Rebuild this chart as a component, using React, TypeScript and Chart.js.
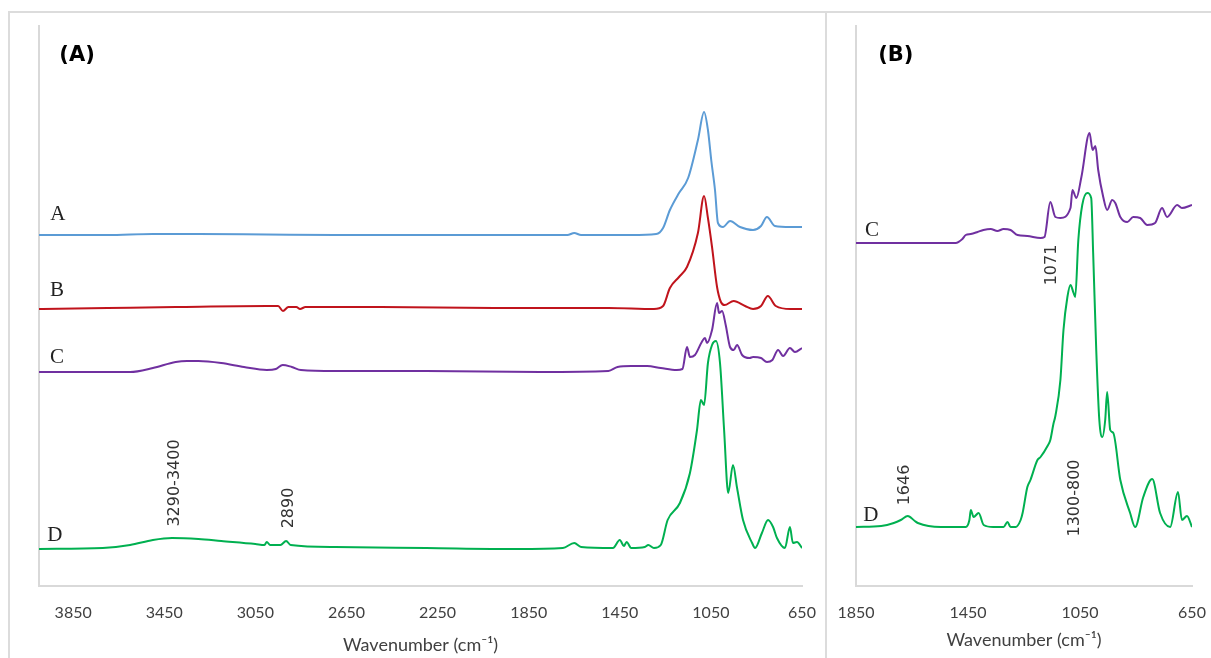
import React, { useEffect, useRef } from "react";
import { Chart, registerables } from "chart.js";

Chart.register(...registerables);

// ---------- Panel (A): full range, wavenumber (cm-1) and offset absorbance (a.u.) ----------
const waveA = [4000, 3700, 3500, 3300, 3000, 2700, 2000, 1680, 1650, 1620, 1400, 1290, 1260, 1230, 1190, 1150, 1107, 1080, 1063, 1048, 1032, 1019, 997, 966, 922, 865, 830, 804, 769, 700, 650];
const absA = [3.51, 3.51, 3.52, 3.52, 3.515, 3.51, 3.51, 3.51, 3.53, 3.51, 3.51, 3.52, 3.58, 3.76, 3.93, 4.08, 4.46, 4.74, 4.56, 4.25, 3.96, 3.63, 3.59, 3.65, 3.59, 3.56, 3.6, 3.69, 3.6, 3.59, 3.59];

const waveB = [4000, 3700, 3400, 3000, 2950, 2929, 2905, 2870, 2854, 2830, 2500, 2000, 1500, 1300, 1260, 1230, 1190, 1155, 1107, 1080, 1063, 1045, 1023, 1006, 990, 950, 900, 865, 830, 800, 765, 700, 650];
const absB = [2.77, 2.78, 2.79, 2.8, 2.8, 2.75, 2.79, 2.79, 2.77, 2.79, 2.79, 2.78, 2.78, 2.77, 2.8, 2.98, 3.09, 3.19, 3.53, 3.9, 3.68, 3.39, 2.99, 2.84, 2.81, 2.85, 2.8, 2.77, 2.8, 2.9, 2.8, 2.77, 2.77];

const waveC = [4000, 3600, 3500, 3400, 3350, 3300, 3200, 3100, 3000, 2960, 2930, 2890, 2850, 2700, 2300, 1800, 1500, 1460, 1400, 1330, 1270, 1200, 1175, 1155, 1142, 1120, 1090, 1076, 1067, 1045, 1023, 1014, 1001, 985, 966, 950, 935, 913, 880, 865, 830, 804, 780, 755, 733, 703, 681, 650];
const absC = [2.14, 2.14, 2.18, 2.24, 2.25, 2.25, 2.23, 2.19, 2.16, 2.17, 2.21, 2.19, 2.16, 2.15, 2.15, 2.14, 2.15, 2.19, 2.2, 2.2, 2.18, 2.16, 2.17, 2.39, 2.29, 2.31, 2.44, 2.48, 2.43, 2.56, 2.83, 2.73, 2.75, 2.61, 2.39, 2.36, 2.41, 2.31, 2.28, 2.29, 2.28, 2.24, 2.26, 2.36, 2.3, 2.38, 2.34, 2.38];

const waveD = [4000, 3720, 3600, 3500, 3416, 3300, 3200, 3050, 3010, 3000, 2985, 2940, 2915, 2895, 2700, 2300, 1900, 1700, 1650, 1620, 1480, 1450, 1432, 1420, 1400, 1340, 1325, 1300, 1270, 1240, 1186, 1142, 1111, 1094, 1080, 1063, 1045, 1028, 1010, 992, 974, 953, 935, 909, 869, 856, 826, 799, 777, 760, 725, 703, 690, 672, 650];
const absD = [0.37, 0.38, 0.41, 0.46, 0.48, 0.47, 0.45, 0.42, 0.41, 0.44, 0.41, 0.41, 0.45, 0.41, 0.39, 0.38, 0.37, 0.38, 0.43, 0.39, 0.38, 0.46, 0.4, 0.44, 0.38, 0.39, 0.41, 0.38, 0.41, 0.66, 0.83, 1.13, 1.56, 1.86, 1.81, 2.23, 2.41, 2.45, 2.23, 1.56, 0.93, 1.21, 0.98, 0.66, 0.43, 0.38, 0.53, 0.66, 0.59, 0.48, 0.38, 0.59, 0.43, 0.44, 0.38];

// ---------- Panel (B): fingerprint region ----------
const waveRC = [1850, 1494, 1470, 1458, 1440, 1416, 1395, 1369, 1345, 1323, 1298, 1273, 1238, 1191, 1177, 1156, 1138, 1120, 1084, 1077, 1063, 1045, 1016, 1005, 995, 985, 967, 953, 935, 924, 906, 881, 860, 835, 810, 782, 757, 739, 703, 686, 650];
const absRC = [3.43, 3.43, 3.47, 3.51, 3.52, 3.54, 3.56, 3.57, 3.55, 3.57, 3.56, 3.51, 3.5, 3.48, 3.49, 3.84, 3.69, 3.68, 3.78, 3.96, 3.88, 4.09, 4.53, 4.36, 4.4, 4.16, 3.89, 3.76, 3.86, 3.83, 3.69, 3.64, 3.69, 3.68, 3.61, 3.63, 3.78, 3.69, 3.81, 3.78, 3.81];

const waveRD = [1850, 1760, 1715, 1690, 1665, 1640, 1629, 1547, 1458, 1445, 1440, 1430, 1412, 1394, 1360, 1323, 1309, 1298, 1280, 1262, 1255, 1238, 1227, 1202, 1191, 1166, 1156, 1145, 1138, 1120, 1109, 1095, 1084, 1073, 1067, 1056, 1042, 1024, 1010, 1003, 992, 981, 970, 960, 953, 942, 931, 906, 871, 853, 824, 792, 764, 728, 700, 686, 668, 650];
const absRD = [0.59, 0.6, 0.63, 0.66, 0.7, 0.65, 0.63, 0.59, 0.59, 0.66, 0.76, 0.69, 0.73, 0.61, 0.59, 0.59, 0.64, 0.59, 0.59, 0.66, 0.73, 0.99, 1.06, 1.26, 1.29, 1.4, 1.46, 1.62, 1.7, 2.06, 2.56, 2.89, 3.01, 2.93, 2.89, 3.46, 3.81, 3.93, 3.88, 3.33, 2.36, 1.66, 1.49, 1.66, 1.94, 1.56, 1.53, 1.06, 0.73, 0.59, 0.89, 1.07, 0.73, 0.59, 0.94, 0.66, 0.7, 0.59];

const ticksLeft = [3850, 3450, 3050, 2650, 2250, 1850, 1450, 1050, 650];
const ticksRight = [1850, 1450, 1050, 650];

const COLORS = { A: "#5B9BD5", B: "#C0141C", C: "#7030A0", D: "#00B050" };
const AXIS_TITLE = "Wavenumber (cm\u207B\u00B9)";

type Note = { text: string; x: number; y: number; font: string; color: string; rotate?: boolean };

const SERIF = "21px 'Liberation Serif', 'DejaVu Serif', serif";
const ANNOT = "16px 'DejaVu Sans', sans-serif";
const PANEL = "bold 21px 'DejaVu Sans', sans-serif";

const notesLeft: Note[] = [
  { text: "(A)", x: 3833, y: 5.3, font: PANEL, color: "#000" },
  { text: "A", x: 3917, y: 3.72, font: SERIF, color: "#222" },
  { text: "B", x: 3921, y: 2.96, font: SERIF, color: "#222" },
  { text: "C", x: 3921, y: 2.29, font: SERIF, color: "#222" },
  { text: "D", x: 3930, y: 0.51, font: SERIF, color: "#222" },
  { text: "3290-3400", x: 3403, y: 1.03, font: ANNOT, color: "#333", rotate: true },
  { text: "2890", x: 2902, y: 0.78, font: ANNOT, color: "#333", rotate: true },
];

const notesRight: Note[] = [
  { text: "(B)", x: 1708, y: 5.3, font: PANEL, color: "#000" },
  { text: "C", x: 1793, y: 3.56, font: SERIF, color: "#222" },
  { text: "D", x: 1797, y: 0.71, font: SERIF, color: "#222" },
  { text: "1071", x: 1149, y: 3.21, font: ANNOT, color: "#333", rotate: true },
  { text: "1300-800", x: 1070, y: 0.88, font: ANNOT, color: "#333", rotate: true },
  { text: "1646", x: 1676, y: 1.01, font: ANNOT, color: "#333", rotate: true },
];

function makeNotesPlugin(notes: Note[]) {
  return {
    id: "spectrumNotes",
    afterDatasetsDraw(chart: any) {
      const { ctx, scales } = chart;
      notes.forEach((n) => {
        const px = scales.x.getPixelForValue(n.x);
        const py = scales.y.getPixelForValue(n.y);
        ctx.save();
        ctx.translate(px, py);
        if (n.rotate) ctx.rotate(-Math.PI / 2);
        ctx.font = n.font;
        ctx.fillStyle = n.color;
        ctx.textAlign = "center";
        ctx.textBaseline = "middle";
        ctx.fillText(n.text, 0, 0);
        ctx.restore();
      });
    },
  };
}

function toPoints(w: number[], a: number[]) {
  return w.map((x, i) => ({ x, y: a[i] }));
}

function ds(label: string, w: number[], a: number[], color: string) {
  return {
    label,
    data: toPoints(w, a),
    borderColor: color,
    backgroundColor: color,
    borderWidth: 2,
    pointRadius: 0,
    cubicInterpolationMode: "monotone" as const,
    fill: false,
  };
}

function makeConfig(datasets: any[], xMin: number, xMax: number, ticks: number[], notes: Note[], pad: any, titlePad: any) {
  return {
    type: "line" as const,
    data: { datasets },
    options: {
      animation: false as const,
      responsive: false,
      maintainAspectRatio: false,
      layout: { padding: pad },
      plugins: { legend: { display: false }, tooltip: { enabled: false } },
      scales: {
        x: {
          type: "linear" as const,
          reverse: true,
          min: xMin,
          max: xMax,
          afterBuildTicks: (scale: any) => {
            scale.ticks = ticks.map((v) => ({ value: v }));
          },
          grid: { display: false, drawTicks: false },
          border: { display: true, color: "#d9d9d9", width: 2 },
          ticks: {
            padding: 0,
            color: "#404040",
            font: { family: "Lato, 'Open Sans', sans-serif", size: 16, lineHeight: 3.375 },
            maxRotation: 0,
            autoSkip: false,
            callback: (v: any) => String(v),
          },
          title: {
            display: true,
            text: AXIS_TITLE,
            color: "#404040",
            font: { family: "Lato, 'Open Sans', sans-serif", size: 18, lineHeight: 1.2 },
            padding: titlePad,
          },
        },
        y: {
          type: "linear" as const,
          min: 0,
          max: 5.6,
          grid: { display: false, drawTicks: false },
          border: { display: true, color: "#d9d9d9", width: 2 },
          ticks: { display: false },
        },
      },
    },
    plugins: [makeNotesPlugin(notes)],
  };
}

export default function App() {
  const leftRef = useRef<HTMLCanvasElement | null>(null);
  const rightRef = useRef<HTMLCanvasElement | null>(null);

  useEffect(() => {
    const left = new Chart(
      leftRef.current as HTMLCanvasElement,
      makeConfig(
        [ds("A", waveA, absA, COLORS.A), ds("B", waveB, absB, COLORS.B), ds("C", waveC, absC, COLORS.C), ds("D", waveD, absD, COLORS.D)],
        650,
        4000,
        ticksLeft,
        notesLeft,
        { left: 29, top: 12, right: 20, bottom: 0 },
        { top: -5.8, bottom: 2.2 }
      ) as any
    );
    const right = new Chart(
      rightRef.current as HTMLCanvasElement,
      makeConfig(
        [ds("C", waveRC, absRC, COLORS.C), ds("D", waveRD, absRD, COLORS.D)],
        650,
        1850,
        ticksRight,
        notesRight,
        { left: 29, top: 12, right: 19, bottom: 0 },
        { top: -10.8, bottom: 7.2 }
      ) as any
    );
    return () => {
      left.destroy();
      right.destroy();
    };
  }, []);

  const line = "#dcdcdc";
  return (
    <div style={{ position: "absolute", left: 0, top: 0, width: 1211, height: 658, overflow: "hidden", background: "#fff" }}>
      <div style={{ position: "absolute", left: 8, top: 11, width: 1203, height: 0, borderTop: `2px solid ${line}` }} />
      <div style={{ position: "absolute", left: 8, top: 11, width: 0, height: 647, borderLeft: `2px solid ${line}` }} />
      <div style={{ position: "absolute", left: 825, top: 11, width: 0, height: 647, borderLeft: `2px solid ${line}` }} />
      <canvas ref={leftRef} width={812} height={644} style={{ position: "absolute", left: 10, top: 14, width: 812, height: 644 }} />
      <canvas ref={rightRef} width={384} height={644} style={{ position: "absolute", left: 827, top: 14, width: 384, height: 644 }} />
    </div>
  );
}
